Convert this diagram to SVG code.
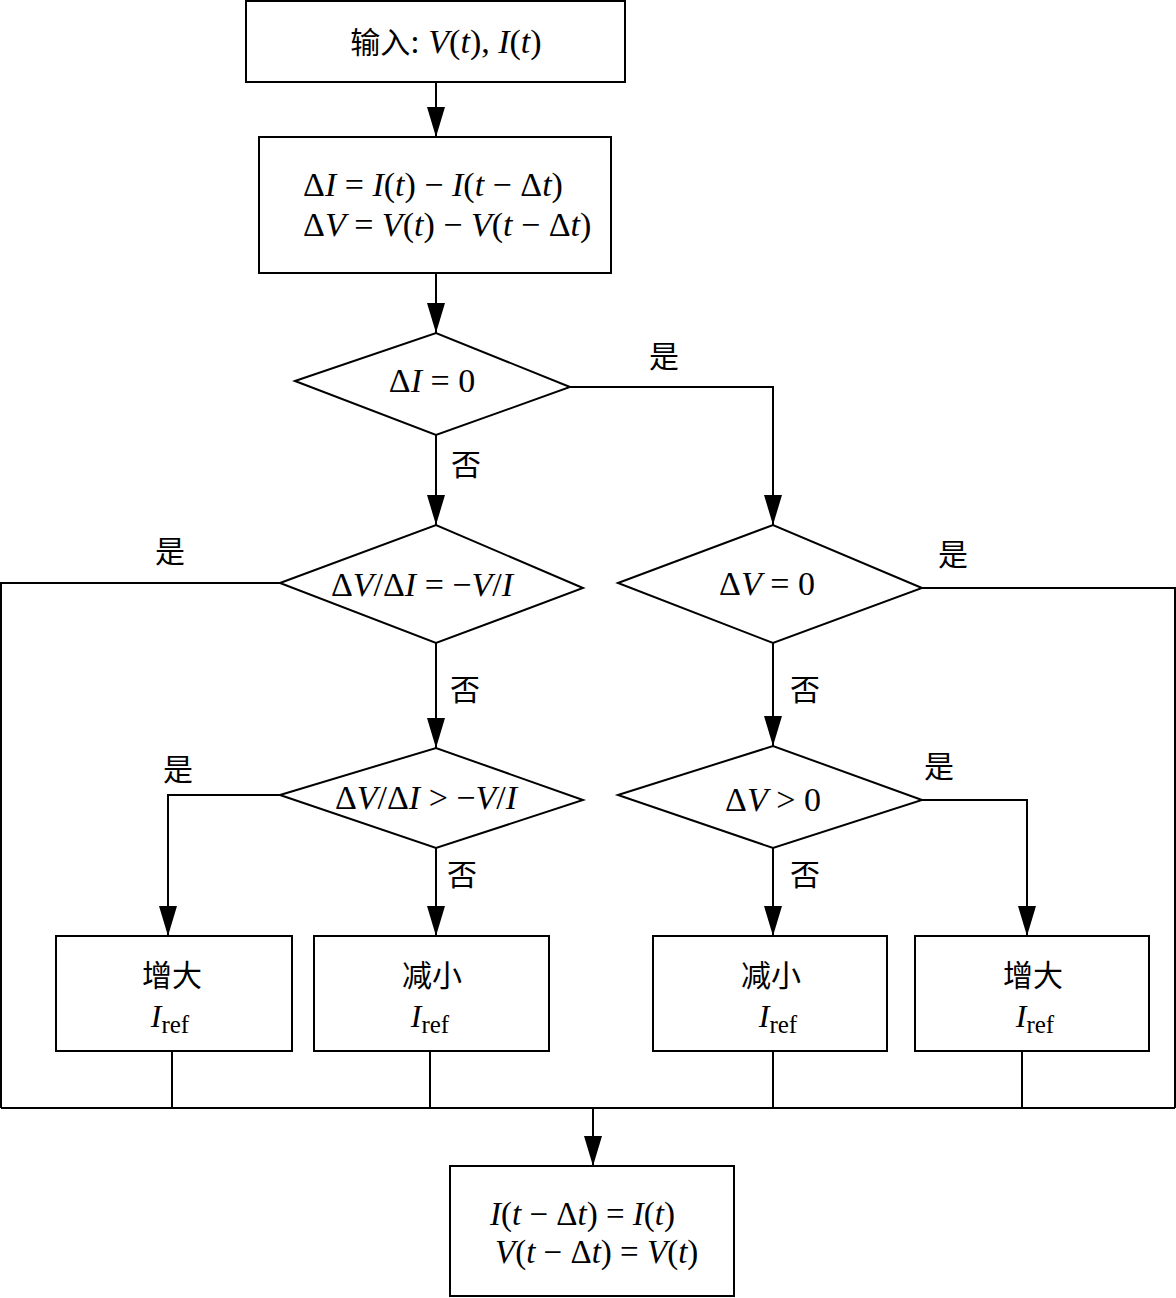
<svg xmlns="http://www.w3.org/2000/svg" width="1176" height="1298" viewBox="0 0 1176 1298">
<style>
  .box { fill: #fff; stroke: #000; stroke-width: 2; }
  .ln { fill: none; stroke: #000; stroke-width: 2; }
  text { font-family: "Liberation Serif", "Noto Sans CJK SC", serif; font-size: 34px; fill: #000; }
  .cjk { font-family: "Noto Sans CJK SC", "Liberation Serif", sans-serif; font-size: 30px; }
  .i { font-style: italic; }
  .ir { font-size: 32px; }
  .sub { font-size: 25px; }
  .fin { font-size: 33px; }
</style>
<defs>
  <marker id="arr" markerUnits="userSpaceOnUse" markerWidth="30" markerHeight="18" viewBox="0 0 30 18" refX="30" refY="9" orient="auto">
    <path d="M0,0 L30,9 L0,18 Z" fill="#000"/>
  </marker>
</defs>
<rect width="1176" height="1298" fill="#fff"/>

<g id="connectors">
  <path class="ln" d="M436,82 V137" marker-end="url(#arr)"/>
  <path class="ln" d="M436,273 V333" marker-end="url(#arr)"/>
  <path class="ln" d="M436,435 V525" marker-end="url(#arr)"/>
  <path class="ln" d="M570,387 H773 V525" marker-end="url(#arr)"/>
  <path class="ln" d="M436,643 V748" marker-end="url(#arr)"/>
  <path class="ln" d="M773,643 V746" marker-end="url(#arr)"/>
  <path class="ln" d="M280,583 H1 V1108"/>
  <path class="ln" d="M922,588 H1175 V1108"/>
  <path class="ln" d="M280,795 H168 V936" marker-end="url(#arr)"/>
  <path class="ln" d="M436,848 V936" marker-end="url(#arr)"/>
  <path class="ln" d="M773,848 V936" marker-end="url(#arr)"/>
  <path class="ln" d="M922,800 H1027 V936" marker-end="url(#arr)"/>
  <path class="ln" d="M172,1051 V1108 M430,1051 V1108 M773,1051 V1108 M1022,1051 V1108"/>
  <path class="ln" d="M1,1108 H1175"/>
  <path class="ln" d="M593,1108 V1166" marker-end="url(#arr)"/>
  <text class="cjk" x="664" y="367" text-anchor="middle">是</text>
  <text class="cjk" x="466" y="475" text-anchor="middle">否</text>
  <text class="cjk" x="170" y="562" text-anchor="middle">是</text>
  <text class="cjk" x="953" y="565" text-anchor="middle">是</text>
  <text class="cjk" x="465" y="700" text-anchor="middle">否</text>
  <text class="cjk" x="805" y="700" text-anchor="middle">否</text>
  <text class="cjk" x="178" y="780" text-anchor="middle">是</text>
  <text class="cjk" x="939" y="777" text-anchor="middle">是</text>
  <text class="cjk" x="462" y="885" text-anchor="middle">否</text>
  <text class="cjk" x="805" y="885" text-anchor="middle">否</text>
</g>

<g id="input">
  <rect class="box" x="246" y="1" width="379" height="81"/>
  <text x="446" y="53" text-anchor="middle"><tspan class="cjk" font-size="32">输入</tspan>: <tspan class="i">V</tspan>(<tspan class="i">t</tspan>), <tspan class="i">I</tspan>(<tspan class="i">t</tspan>)</text>
</g>

<g id="delta">
  <rect class="box" x="259" y="137" width="352" height="136"/>
  <text x="303" y="196">Δ<tspan class="i">I</tspan> = <tspan class="i">I</tspan>(<tspan class="i">t</tspan>) − <tspan class="i">I</tspan>(<tspan class="i">t</tspan> − Δ<tspan class="i">t</tspan>)</text>
  <text x="303" y="236">Δ<tspan class="i">V</tspan> = <tspan class="i">V</tspan>(<tspan class="i">t</tspan>) − <tspan class="i">V</tspan>(<tspan class="i">t</tspan> − Δ<tspan class="i">t</tspan>)</text>
</g>

<g id="d1">
  <polygon class="box" points="295,381 436,333 570,387 436,435"/>
  <text x="432" y="392" text-anchor="middle">Δ<tspan class="i">I</tspan> = 0</text>
</g>

<g id="d2">
  <polygon class="box" points="280,583 436,525 583,588 436,643"/>
  <text x="422" y="596" text-anchor="middle">Δ<tspan class="i">V</tspan>/Δ<tspan class="i">I</tspan> = −<tspan class="i">V</tspan>/<tspan class="i">I</tspan></text>
</g>

<g id="d3">
  <polygon class="box" points="618,583 773,525 922,588 773,643"/>
  <text x="767" y="595" text-anchor="middle">Δ<tspan class="i">V</tspan> = 0</text>
</g>

<g id="d4">
  <polygon class="box" points="280,795 436,748 583,800 436,848"/>
  <text x="426" y="809" text-anchor="middle">Δ<tspan class="i">V</tspan>/Δ<tspan class="i">I</tspan> &gt; −<tspan class="i">V</tspan>/<tspan class="i">I</tspan></text>
</g>

<g id="d5">
  <polygon class="box" points="618,795 773,746 922,800 773,848"/>
  <text x="773" y="811" text-anchor="middle">Δ<tspan class="i">V</tspan> &gt; 0</text>
</g>

<g id="b1">
  <rect class="box" x="56" y="936" width="236" height="115"/>
  <text class="cjk" x="172" y="986" text-anchor="middle">增大</text>
  <text class="ir" x="170" y="1027" text-anchor="middle"><tspan class="i">I</tspan><tspan class="sub" dy="6">ref</tspan></text>
</g>

<g id="b2">
  <rect class="box" x="314" y="936" width="235" height="115"/>
  <text class="cjk" x="432" y="986" text-anchor="middle">减小</text>
  <text class="ir" x="430" y="1027" text-anchor="middle"><tspan class="i">I</tspan><tspan class="sub" dy="6">ref</tspan></text>
</g>

<g id="b3">
  <rect class="box" x="653" y="936" width="234" height="115"/>
  <text class="cjk" x="771" y="986" text-anchor="middle">减小</text>
  <text class="ir" x="778" y="1027" text-anchor="middle"><tspan class="i">I</tspan><tspan class="sub" dy="6">ref</tspan></text>
</g>

<g id="b4">
  <rect class="box" x="915" y="936" width="234" height="115"/>
  <text class="cjk" x="1033" y="986" text-anchor="middle">增大</text>
  <text class="ir" x="1035" y="1027" text-anchor="middle"><tspan class="i">I</tspan><tspan class="sub" dy="6">ref</tspan></text>
</g>

<g id="update">
  <rect class="box" x="450" y="1166" width="284" height="130"/>
  <text class="fin" x="490" y="1225"><tspan class="i">I</tspan>(<tspan class="i">t</tspan> − Δ<tspan class="i">t</tspan>) = <tspan class="i">I</tspan>(<tspan class="i">t</tspan>)</text>
  <text class="fin" x="495" y="1263"><tspan class="i">V</tspan>(<tspan class="i">t</tspan> − Δ<tspan class="i">t</tspan>) = <tspan class="i">V</tspan>(<tspan class="i">t</tspan>)</text>
</g>
</svg>
